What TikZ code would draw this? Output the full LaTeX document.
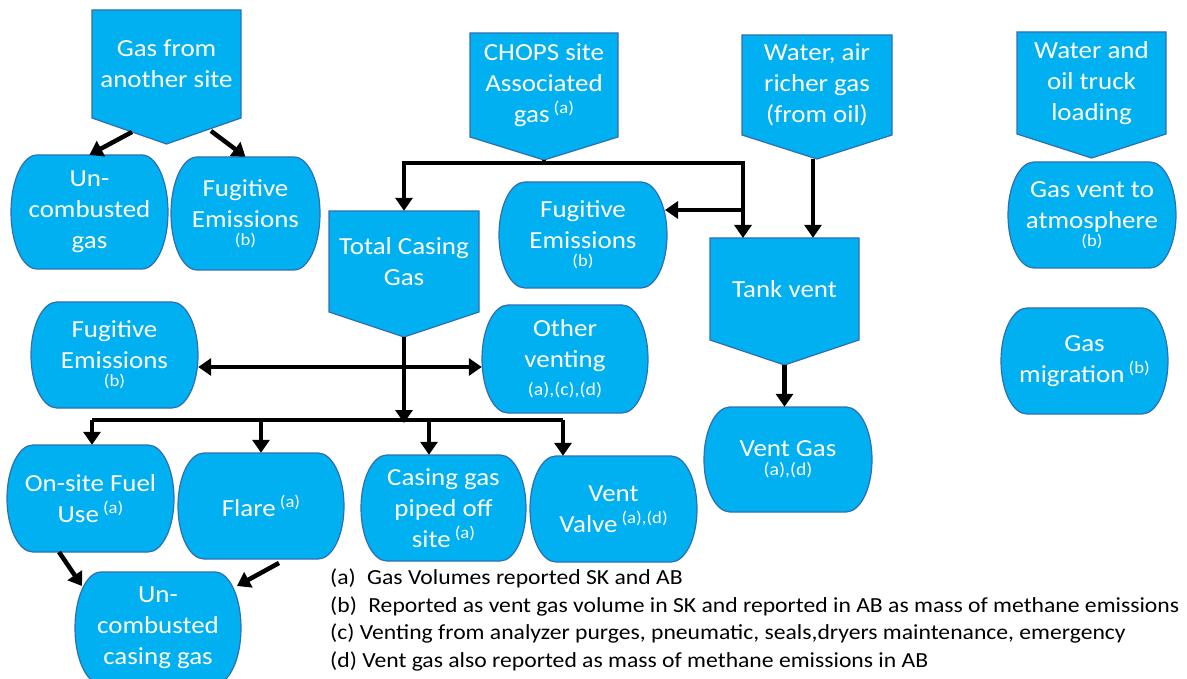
\documentclass[tikz,border=0pt]{standalone}
\usepackage{fontspec}
\setmainfont{Carlito}[FakeStretch=1.1]
\usetikzlibrary{arrows.meta,calc}
\definecolor{boxfill}{RGB}{0,176,240}
\definecolor{boxline}{RGB}{46,110,180}
\tikzset{
  boxshape/.style={fill=boxfill, draw=boxline, line width=1.2pt},
  boxtext/.style={text=white, font=\fontsize{24.5}{31}\selectfont, align=center, inner sep=0pt, draw=none},
  arr/.style={line width=4.5pt, -{Triangle[length=13pt,width=17pt]}},
  arrtwo/.style={line width=4.5pt, {Triangle[length=13pt,width=17pt]}-{Triangle[length=13pt,width=17pt]}},
  busline/.style={line width=4.5pt},
  legend/.style={font=\fontsize{21.5}{24}\selectfont, anchor=west, inner sep=0pt, text=black}
}
\newcommand{\sups}[1]{\,\raisebox{9pt}{\fontsize{17}{17}\selectfont #1}}
\newcommand{\subl}[1]{{\fontsize{17}{17}\selectfont #1}}
% pentagon: name, L, T, R, shoulder y, tip y, text
\newcommand{\pent}[7]{%
  \filldraw[boxshape] (#2,#3) -- (#4,#3) -- (#4,#5) -- ({(#2+#4)/2},#6) -- (#2,#5) -- cycle;
  \node[boxtext, minimum width={(#4-#2)*1pt}, minimum height={(#5-#3)*1pt}] (#1) at ({(#2+#4)/2},{(#3+#5)/2}) {#7};
  \coordinate (#1-tip) at ({(#2+#4)/2},#6);
}
% barrel (half-ellipse sides): name, L, T, R, B, text
\newcommand{\barrel}[6]{%
  \pgfmathsetmacro{\bL}{#2}\pgfmathsetmacro{\bT}{#3}%
  \pgfmathsetmacro{\bR}{#4}\pgfmathsetmacro{\bB}{#5}%
  \pgfmathsetmacro{\bM}{(#3+#5)/2}%
  \pgfmathsetmacro{\brx}{26}%
  \pgfmathsetmacro{\bry}{(#5-#3)/2}%
  \filldraw[boxshape] (\bL+\brx,\bT) -- (\bR-\brx,\bT)
    .. controls (\bR-0.448*\brx,\bT) and (\bR,\bM-0.552*\bry) .. (\bR,\bM)
    .. controls (\bR,\bM+0.552*\bry) and (\bR-0.448*\brx,\bB) .. (\bR-\brx,\bB)
    -- (\bL+\brx,\bB)
    .. controls (\bL+0.448*\brx,\bB) and (\bL,\bM+0.552*\bry) .. (\bL,\bM)
    .. controls (\bL,\bM-0.552*\bry) and (\bL+0.448*\brx,\bT) .. cycle;
  \node[boxtext, minimum width={(#4-#2)*1pt}, minimum height={(#5-#3)*1pt}] (#1) at ({(#2+#4)/2},\bM) {#6};
}
\begin{document}
\begin{tikzpicture}[x=1pt,y=-1pt]
\useasboundingbox (0,0) rectangle (1187,679);
\fill[white] (0,0) rectangle (1187,679);

% input shapes
\pent{gfa}{92}{10}{241}{118}{144}{Gas from\\another site}
\pent{chops}{470}{33}{618}{137}{160}{CHOPS site\\Associated\\gas\sups{(a)}}
\pent{water}{742}{35}{892}{135}{159}{Water, air\\richer gas\\(from oil)}
\pent{truck}{1017}{32}{1166}{134}{158}{Water and\\oil truck\\loading}
\pent{total}{329}{211}{479}{312}{337}{Total Casing\\Gas}
\pent{tank}{710}{238}{859}{340}{365}{Tank vent}

% outcome shapes
\barrel{unc1}{11}{155}{168}{269}{Un-\\combusted\\gas}
\barrel{fug1}{171}{157}{320}{270}{Fugitive\\Emissions\\[-13pt]\subl{(b)}}
\barrel{fug2}{499}{182}{667}{288}{Fugitive\\Emissions\\[-13pt]\subl{(b)}}
\barrel{gva}{1008}{162}{1176}{268}{Gas vent to\\atmosphere\\[-13pt]\subl{(b)}}
\barrel{mig}{1001}{308}{1168}{414}{Gas\\migration\sups{(b)}}
\barrel{fug3}{31}{302}{198}{408}{Fugitive\\Emissions\\[-13pt]\subl{(b)}}
\barrel{other}{482}{305}{648}{413}{Other\\venting\\[-3pt]{\fontsize{18}{18}\selectfont (a),(c),(d)}}
\barrel{vgas}{704}{407}{872}{512}{Vent Gas\\[-12pt]{\fontsize{18}{18}\selectfont (a),(d)}}
\barrel{fuel}{7}{445}{174}{552}{On-site Fuel\\Use\sups{(a)}}
\barrel{flare}{178}{453}{344}{559}{Flare\sups{(a)}}
\barrel{piped}{361}{455}{526}{561}{Casing gas\\piped off\\site\sups{(a)}}
\barrel{valve}{530}{456}{697}{562}{Vent\\Valve\sups{(a),(d)}}
\barrel{unc2}{75}{572}{241}{684}{Un-\\combusted\\casing gas}

% connectors
\coordinate (g1) at (132,132);
\coordinate (g2) at (211,131);
\draw[arr] (g1) -- (unc1.north);
\draw[arr] (g2) -- (fug1.north);

\coordinate (cj) at (544,163);
\coordinate (t1) at (743,238);
\coordinate (tj) at (743,210);
\coordinate (f2in) at (665,210);
\coordinate (wj) at (813,159);
\draw[arr] (chops-tip) -- (cj) -| (total.north);
\draw[arr] (cj) -| (t1);
\draw[arr] (tj) -- (f2in);
\draw[arr] (wj) -- (wj |- tank.north);
\draw[arr] (tank-tip) -- (tank-tip |- vgas.north);

\coordinate (bj) at (404,423);
\draw[arr] (total-tip) -- (bj);
\coordinate (dj) at (404,367);
\draw[arrtwo] (fug3.east |- dj) -- (other.west |- dj);

\coordinate (b1) at (92,420);
\coordinate (b2) at (261,420);
\coordinate (b3) at (429,420);
\coordinate (b4) at (563,420);
\draw[busline] (b1) -- (b4);
\draw[arr] (b1) -- (b1 |- fuel.north);
\draw[arr] (b2) -- (b2 |- flare.north);
\draw[arr] (b3) -- (b3 |- piped.north);
\draw[arr] (b4) -- (b4 |- valve.north);

\coordinate (u1) at (59,552);
\coordinate (u1e) at (82,586);
\coordinate (u2) at (279,563);
\coordinate (u2e) at (237,586);
\draw[arr] (u1) -- (u1e);
\draw[arr] (u2) -- (u2e);

% legend
\node[legend] (la) at (330,578) {(a)\hspace{6pt} Gas Volumes reported SK and AB};
\node[legend] (lb) at (330,606) {(b)\hspace{6pt} Reported as vent gas volume in SK and reported in AB as mass of methane emissions};
\node[legend] (lc) at (330,633) {(c) Venting from analyzer purges, pneumatic, seals,dryers maintenance, emergency};
\node[legend] (ld) at (330,661) {(d) Vent gas also reported as mass of methane emissions in AB};
\end{tikzpicture}
\end{document}
